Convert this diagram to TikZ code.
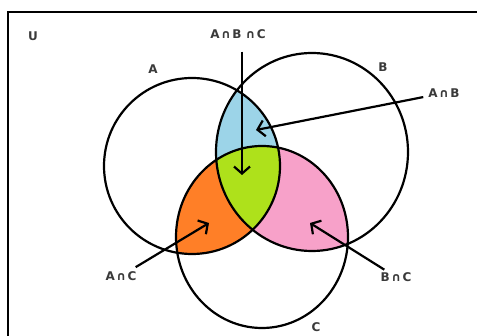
\documentclass[tikz,border=0pt]{standalone}
\usepackage{fontspec}
\setmainfont{DejaVu Sans}
\usetikzlibrary{arrows.meta, positioning}
\definecolor{setblue}{HTML}{9CD4E8}
\definecolor{setgreen}{HTML}{AEE11B}
\definecolor{setorange}{HTML}{FF7F27}
\definecolor{setpink}{HTML}{F7A1C9}
\definecolor{labelgray}{HTML}{3A3A3A}
% the three sets
\newcommand{\shapeA}{(192,166) circle [radius=88]}
\newcommand{\shapeB}{(312,152) ellipse [x radius=96, y radius=99]}
\newcommand{\shapeC}{(262,237) ellipse [x radius=86, y radius=91]}
\newcommand{\capsep}{\kern1.5pt∩\kern1.5pt}
\begin{document}
\begin{tikzpicture}[
    x=1pt, y=-1pt,
    >={Straight Barb[length=7pt, width=16pt]},
    font=\bfseries\fontsize{12}{14}\selectfont,
    setline/.style={line width=2.2pt, black},
    framebox/.style={line width=2.6pt, black, line cap=rect},
    setlabel/.style={text=labelgray, inner sep=1pt},
    arrstyle/.style={->, line width=2.2pt, black},
]
\useasboundingbox (0,0) rectangle (477,336);

% === Universe ===
\coordinate (ucorner) at (8,12);
\draw[framebox] (ucorner -| 477,0) -- (ucorner) -- (ucorner |- 0,336);
\node[setlabel] (U) at (33,36) {U};

% === Coloured regions ===
\begin{scope}
  \clip \shapeA;
  \fill[setblue] \shapeB;
\end{scope}
\begin{scope}
  \clip \shapeA;
  \fill[setorange] \shapeC;
\end{scope}
\begin{scope}
  \clip \shapeB;
  \fill[setpink] \shapeC;
\end{scope}
\begin{scope}
  \clip \shapeA;
  \clip \shapeB;
  \fill[setgreen] \shapeC;
\end{scope}

% === Circles ===
\draw[setline] \shapeA;
\draw[setline] \shapeB;
\draw[setline] \shapeC;

% === Set names ===
\node[setlabel] (nA) at (153,69) {A};
\node[setlabel] (nB) at (383,67) {B};
\node[setlabel] (nC) at (316,327) {C};

% === Intersection labels ===
\node[setlabel] (labc) at (238,34) {A\capsep B\kern4pt∩\kern1.5pt C};
\node[setlabel] (lab) at (444,93) {A\capsep B};
\node[setlabel] (lac) at (121,276) {A\capsep C};
\node[setlabel] (lbc) at (396,277) {B\capsep C};

% arrow tips
\coordinate (tabc) at (242,175);
\coordinate (tab) at (256,130);
\coordinate (tac) at (209,223);
\coordinate (tbc) at (310,223);

% === Arrows ===
\draw[arrstyle, shorten <=12pt] (tabc |- labc.south) -- (tabc);
\draw[arrstyle, shorten <=4pt] (lab) -- (tab);
\draw[arrstyle, shorten <=6pt] (lac) -- (tac);
\draw[arrstyle, shorten <=3pt] (lbc) -- (tbc);

\end{tikzpicture}
\end{document}
